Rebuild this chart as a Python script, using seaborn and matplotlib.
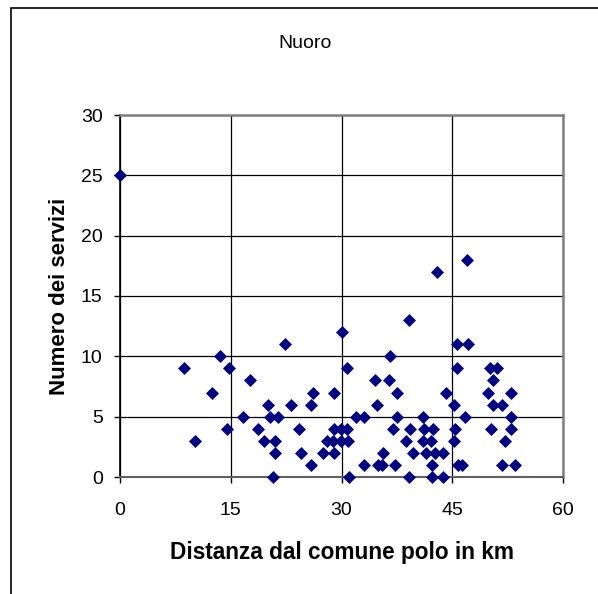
import pandas as pd
import numpy as np
import matplotlib
matplotlib.use("Agg")
import matplotlib.pyplot as plt
import matplotlib.patches as mpatches
import seaborn as sns

# dati (distanza in km, numero servizi)
distanza = [0.0, 8.7, 10.1, 12.5, 13.5, 14.5, 14.7, 16.6, 17.6, 18.7,
            19.5, 20.1, 20.3, 20.7, 21.0, 21.0, 21.4, 22.3, 23.1, 24.2,
            24.5, 25.9, 25.9, 26.1, 27.5, 28.0, 28.9, 29.0, 29.0, 29.0,
            29.9, 29.9, 30.1, 30.7, 30.8, 30.9, 31.0, 32.0, 33.0, 33.0,
            34.5, 34.8, 35.0, 35.5, 35.6, 36.4, 36.6, 37.0, 37.3, 37.5,
            37.5, 38.8, 39.1, 39.1, 39.3, 39.7, 41.1, 41.2, 41.1, 41.5,
            42.3, 42.3, 42.4, 42.1, 42.7, 42.9, 43.7, 43.8, 44.1, 45.3,
            45.4, 45.3, 45.6, 45.7, 45.8, 46.3, 46.7, 47.0, 47.1, 50.1,
            51.0, 50.5, 49.9, 53.0, 50.5, 51.7, 53.0, 50.3, 52.9, 52.1,
            51.8, 53.5]
servizi = [25, 9, 3, 7, 10, 4, 9, 5, 8, 4,
           3, 6, 5, 0, 3, 2, 5, 11, 6, 4,
           2, 6, 1, 7, 2, 3, 3, 7, 4, 2,
           4, 3, 12, 9, 4, 3, 0, 5, 5, 1,
           8, 6, 1, 1, 2, 8, 10, 4, 1, 7,
           5, 3, 13, 0, 4, 2, 5, 4, 3, 2,
           1, 0, 4, 3, 2, 17, 0, 2, 7, 6,
           4, 3, 11, 9, 1, 1, 5, 18, 11, 9,
           9, 8, 7, 7, 6, 6, 5, 4, 4, 3,
           1, 1]

x_ticks = [0, 15, 30, 45, 60]
y_ticks = [0, 5, 10, 15, 20, 25, 30]

df = pd.DataFrame({"Distanza": distanza, "Servizi": servizi})

sns.set_style("white")
plt.rcParams['font.family'] = ['Liberation Sans', 'DejaVu Sans']
plt.rcParams['text.color'] = 'black'
plt.rcParams['axes.labelcolor'] = 'black'
plt.rcParams['xtick.color'] = 'black'
plt.rcParams['ytick.color'] = 'black'

fig = plt.figure(figsize=(5.98, 5.94), dpi=100)
ax = fig.add_axes([120 / 598, 1 - 477 / 594, 443 / 598, 362 / 594])

sns.scatterplot(data=df, x="Distanza", y="Servizi", marker="D",
                color="#000080", s=44, linewidth=0, ax=ax, zorder=3,
                clip_on=False)

ax.set_xlim(0, 60)
ax.set_ylim(0, 30)
ax.set_xticks(x_ticks)
ax.set_yticks(y_ticks)
ax.grid(True, color="black", linewidth=0.9)
ax.set_axisbelow(True)

for side in ["top", "right"]:
    ax.spines[side].set_color("#808080")
    ax.spines[side].set_linewidth(1.8)
ax.spines["left"].set_color("black")
ax.spines["bottom"].set_color("#606060")
ax.spines["left"].set_linewidth(1.2)
ax.spines["bottom"].set_linewidth(1.5)

ax.tick_params(axis="both", direction="out", length=4.5, width=1,
               color="black", labelsize=14, left=True, bottom=True)
ax.tick_params(axis="y", pad=8)
ax.tick_params(axis="x", pad=13.5)

ax.set_xlabel("Distanza dal comune polo in km", fontsize=16.3,
              fontweight="bold", labelpad=16)
ax.set_ylabel("Numero dei servizi", fontsize=16,
              fontweight="bold", labelpad=8)

fig.text(305 / 598, 1 - 48 / 594, "Nuoro", ha="center", va="baseline",
         fontsize=14)

# cornice del grafico (tagliata a destra e in basso)
fig.patches.append(mpatches.Rectangle((11 / 598, -0.2), 1.2, 1 - 8 / 594 + 0.2,
                                      transform=fig.transFigure, fill=False,
                                      edgecolor="black", linewidth=1.2))

fig.savefig("out.png", dpi=100)
